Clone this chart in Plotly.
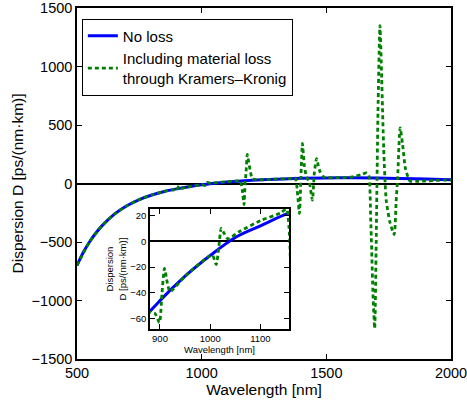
import plotly.graph_objects as go

# ---- data ----
wl_noloss = [500, 525, 550, 575, 600, 650, 700, 750, 800, 850, 900, 950, 1000,
             1050, 1100, 1157, 1200, 1300, 1400, 1500, 1600, 1700, 1800, 1900, 2000]
D_noloss = [-700, -590, -500, -425, -362, -262, -190, -137, -98, -68, -46, -27, -11,
            3, 12, 22, 27, 37, 44, 48, 49, 47, 43, 38, 32]

wl_kk = [500, 550, 600, 650, 700, 750, 800, 850, 880, 890, 899, 904, 909, 915, 920,
         950, 1000, 1005, 1012, 1017, 1022, 1028, 1035, 1060, 1100, 1140, 1152, 1157,
         1163, 1170, 1174, 1178, 1183, 1189, 1196, 1204, 1250, 1300, 1350, 1375, 1385,
         1392, 1398, 1404, 1412, 1420, 1432, 1444, 1452, 1461, 1468, 1475, 1490, 1550,
         1600, 1640, 1660, 1670, 1678, 1688, 1694, 1700, 1707, 1715, 1722, 1730, 1740,
         1755, 1772, 1780, 1786, 1796, 1806, 1818, 1836, 1860, 1900, 1950, 2000]
D_kk = [-700, -500, -362, -262, -190, -137, -98, -68, -55, -56, -63, -40, -21, -33, -39,
        -27, -11, -11, -18, -5, 10, 6, 2, 8, 16, 22, 25, 10,
        -60, -180, 0, 94, 248, 180, 94, 40, 32, 38, 42, 46, -100,
        -256, 50, 342, 150, 60, 8, -142, 94, 213, 150, 100, 55, 50,
        55, 75, 90, 70, -300, -1000, -1240, -500, 600, 1350, 900, 300, -140,
        -330, -436, -150, 50, 476, 330, 120, 20, 18, 22, 27, 30]

main_xticks = [500, 1000, 1500, 2000]
main_yticks = [-1500, -1000, -500, 0, 500, 1000, 1500]
inset_xticks = [900, 1000, 1100]
inset_yticks = [-60, -40, -20, 0, 20]

BLUE = "rgb(0,0,255)"
GREEN = "rgb(0,128,0)"
FONT = "Liberation Sans, Arial, sans-serif"

fig = go.Figure()

# main plot
fig.add_trace(go.Scatter(x=wl_noloss, y=D_noloss, mode="lines", name="No loss",
                         line=dict(color=BLUE, width=3, shape="spline"),
                         xaxis="x", yaxis="y"))
fig.add_trace(go.Scatter(x=wl_kk, y=D_kk, mode="lines",
                         name="Including material loss<br>through Kramers\u2013Kronig",
                         line=dict(color=GREEN, width=2.8, dash="4px,3px", shape="spline",
                                   smoothing=0.6),
                         xaxis="x", yaxis="y"))
# inset
fig.add_trace(go.Scatter(x=wl_noloss, y=D_noloss, mode="lines", showlegend=False,
                         line=dict(color=BLUE, width=3, shape="spline"),
                         xaxis="x2", yaxis="y2", cliponaxis=True))
fig.add_trace(go.Scatter(x=wl_kk, y=D_kk, mode="lines", showlegend=False,
                         line=dict(color=GREEN, width=2.8, dash="4px,3px", shape="spline",
                                   smoothing=0.6),
                         xaxis="x2", yaxis="y2", cliponaxis=True))

ax_common = dict(showline=True, linecolor="black", linewidth=1.5, mirror="ticks",
                 ticks="inside", ticklen=5, tickcolor="black", tickwidth=1,
                 showgrid=False, color="black", automargin=False,
                 ticklabeloverflow="allow")

fig.update_layout(
    width=467, height=406,
    margin=dict(l=77, r=16, t=8, b=47, autoexpand=False),
    paper_bgcolor="white", plot_bgcolor="white",
    font=dict(family=FONT, color="black", size=15),
    showlegend=True,
    legend=dict(x=0.013, y=0.97, xanchor="left", yanchor="top",
                bordercolor="black", borderwidth=1, bgcolor="white",
                font=dict(size=15), itemwidth=30, tracegroupgap=0),
    xaxis=dict(range=[500, 2000], tickvals=main_xticks,
               title=dict(text="Wavelength [nm]", font=dict(size=15.5), standoff=4),
               zeroline=False, tickfont=dict(size=14.5), **ax_common),
    yaxis=dict(range=[-1500, 1500], tickvals=main_yticks,
               title=dict(text="Dispersion D [ps/(nm\u00b7km)]", font=dict(size=15.5), standoff=4),
               zeroline=True, zerolinecolor="black", zerolinewidth=2.2,
               tickfont=dict(size=14.5), **ax_common),
    xaxis2=dict(domain=[0.195, 0.567], anchor="y2", range=[880, 1157], tickvals=inset_xticks,
                title=dict(text="Wavelength [nm]", font=dict(size=9.5), standoff=1),
                tickfont=dict(size=9.5), zeroline=False, **ax_common),
    yaxis2=dict(domain=[0.0855, 0.427], anchor="x2", range=[-68, 25], tickvals=inset_yticks,
                title=dict(text="Dispersion<br>D [ps/(nm\u00b7km)]", font=dict(size=9.5), standoff=2),
                tickfont=dict(size=9.5),
                zeroline=True, zerolinecolor="black", zerolinewidth=2.2, **ax_common),
    shapes=[dict(type="rect", xref="x2", yref="y2", x0=880, x1=1157, y0=-68, y1=25,
                 fillcolor="white", line=dict(width=0), layer="below")],
)

fig.write_html("out.html")
